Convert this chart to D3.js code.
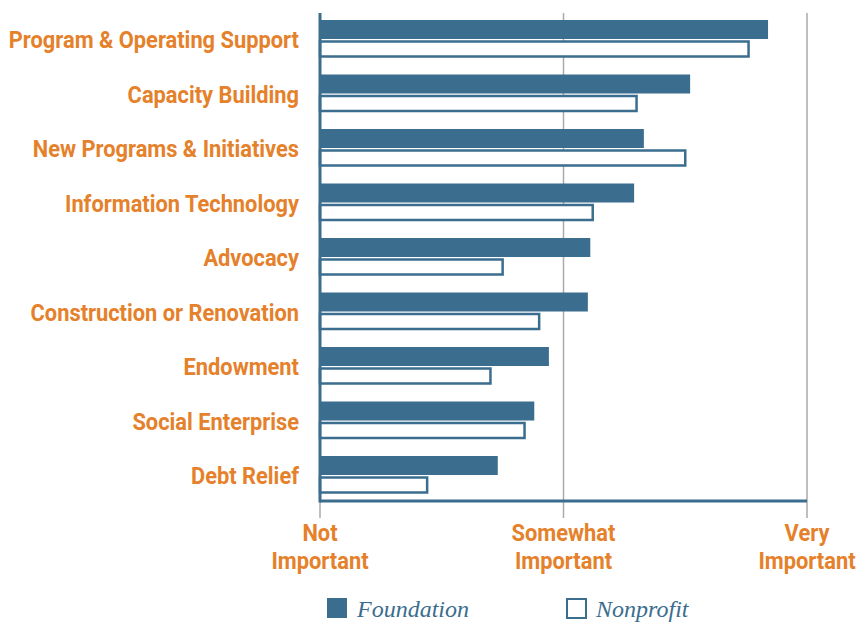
<!DOCTYPE html>
<html lang="en">
<head>
<meta charset="UTF-8">
<title>Funding priorities</title>
<style>
  body { margin: 0; padding: 0; background: #ffffff; }
  svg { display: block; }
  .cat-label, .tick-label {
    font-family: Roboto, 'Liberation Sans', sans-serif;
    font-weight: bold;
    fill: #e5812b;
  }
  .legend-label {
    font-family: 'Liberation Serif', 'DejaVu Serif', serif;
    font-style: italic;
    fill: #3a6d8e;
  }
</style>
</head>
<body>
<div id="chart"></div>
<script src="https://d3js.org/d3.v7.min.js"></script>
<script>
  const width = 861;
  const height = 622;

  const categories = [
    "Program & Operating Support",
    "Capacity Building",
    "New Programs & Initiatives",
    "Information Technology",
    "Advocacy",
    "Construction or Renovation",
    "Endowment",
    "Social Enterprise",
    "Debt Relief"
  ];
  // 1 = Not Important, 2 = Somewhat Important, 3 = Very Important
  const foundation = [2.84, 2.52, 2.33, 2.29, 2.11, 2.10, 1.94, 1.88, 1.73];
  const nonprofit  = [2.76, 2.30, 2.50, 2.12, 1.75, 1.90, 1.70, 1.84, 1.44];
  const tickValues = [1, 2, 3];
  const tickLabels = [["Not", "Important"], ["Somewhat", "Important"], ["Very", "Important"]];
  const seriesNames = ["Foundation", "Nonprofit"];

  const blue = "#3a6d8e";
  const grid = "#aaaaaa";
  const squeeze = 0.91; // condensed look for the sans labels

  const svg = d3.select("#chart").append("svg")
    .attr("width", width)
    .attr("height", height);

  const x = d3.scaleLinear().domain([1, 3]).range([320, 807]);
  const y = d3.scaleBand().domain(categories).range([20, 20 + 54.5 * 9]).paddingInner(0);

  const axisBottom = 501;

  // gridlines
  svg.selectAll(".grid")
    .data(tickValues.slice(1))
    .enter().append("line")
    .attr("x1", d => x(d)).attr("x2", d => x(d))
    .attr("y1", 13).attr("y2", 518)
    .attr("stroke", grid).attr("stroke-width", 1.5);

  // tick under the left axis
  svg.append("line")
    .attr("x1", x(1)).attr("x2", x(1))
    .attr("y1", axisBottom).attr("y2", 518)
    .attr("stroke", grid).attr("stroke-width", 1.5);

  const rows = svg.selectAll(".row")
    .data(categories)
    .enter().append("g")
    .attr("class", "row")
    .attr("transform", d => `translate(0,${y(d)})`);

  rows.append("rect")
    .attr("x", x(1))
    .attr("y", 0)
    .attr("width", (d, i) => x(foundation[i]) - x(1))
    .attr("height", 19)
    .attr("fill", blue);

  rows.append("rect")
    .attr("x", x(1))
    .attr("y", 21.5)
    .attr("width", (d, i) => x(nonprofit[i]) - x(1))
    .attr("height", 15)
    .attr("fill", "#ffffff")
    .attr("stroke", blue)
    .attr("stroke-width", 2.5);

  rows.append("text")
    .attr("class", "cat-label")
    .attr("transform", `translate(299,28) scale(${squeeze},1)`)
    .attr("text-anchor", "end")
    .style("font-size", "24px")
    .text(d => d);

  // axes lines
  svg.append("line")
    .attr("x1", x(1)).attr("x2", x(1))
    .attr("y1", 13).attr("y2", axisBottom + 1.5)
    .attr("stroke", blue).attr("stroke-width", 3);
  svg.append("line")
    .attr("x1", x(1)).attr("x2", x(3))
    .attr("y1", axisBottom).attr("y2", axisBottom)
    .attr("stroke", blue).attr("stroke-width", 3);

  // tick labels
  const ticks = svg.selectAll(".tick-label")
    .data(tickValues)
    .enter().append("text")
    .attr("class", "tick-label")
    .attr("text-anchor", "middle")
    .style("font-size", "24px")
    .attr("transform", d => `translate(${x(d)},0) scale(${squeeze},1)`);
  ticks.append("tspan").attr("x", 0).attr("y", 541).text((d, i) => tickLabels[i][0]);
  ticks.append("tspan").attr("x", 0).attr("y", 569).text((d, i) => tickLabels[i][1]);

  // legend
  const legend = svg.selectAll(".legend")
    .data(seriesNames)
    .enter().append("g")
    .attr("transform", (d, i) => `translate(${i === 0 ? 327 : 566},0)`);
  legend.append("rect")
    .attr("x", (d, i) => i === 0 ? 0 : 1)
    .attr("y", (d, i) => i === 0 ? 598 : 599)
    .attr("width", (d, i) => i === 0 ? 20 : 19)
    .attr("height", (d, i) => i === 0 ? 20 : 19)
    .attr("fill", (d, i) => i === 0 ? blue : "#ffffff")
    .attr("stroke", blue)
    .attr("stroke-width", (d, i) => i === 0 ? 0 : 2);
  legend.append("text")
    .attr("class", "legend-label")
    .attr("x", 30).attr("y", 617)
    .style("font-size", "24px")
    .text(d => d);
</script>
</body>
</html>
